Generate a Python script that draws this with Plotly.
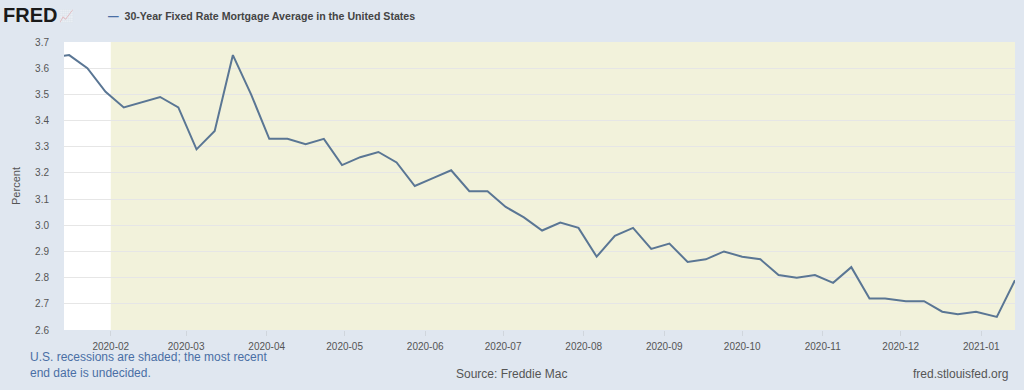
import plotly.graph_objects as go

dates = ["2020-01-09", "2020-01-16", "2020-01-23", "2020-01-30", "2020-02-06", "2020-02-13",
         "2020-02-20", "2020-02-27", "2020-03-05", "2020-03-12", "2020-03-19", "2020-03-26",
         "2020-04-02", "2020-04-09", "2020-04-16", "2020-04-23", "2020-04-30", "2020-05-07",
         "2020-05-14", "2020-05-21", "2020-05-28", "2020-06-04", "2020-06-11", "2020-06-18",
         "2020-06-25", "2020-07-02", "2020-07-09", "2020-07-16", "2020-07-23", "2020-07-30",
         "2020-08-06", "2020-08-13", "2020-08-20", "2020-08-27", "2020-09-03", "2020-09-10",
         "2020-09-17", "2020-09-24", "2020-10-01", "2020-10-08", "2020-10-15", "2020-10-22",
         "2020-10-29", "2020-11-05", "2020-11-12", "2020-11-19", "2020-11-25", "2020-12-03",
         "2020-12-10", "2020-12-17", "2020-12-23", "2020-12-30", "2021-01-07", "2021-01-14"]
rates = [3.64, 3.65, 3.60, 3.51, 3.45, 3.47, 3.49, 3.45, 3.29, 3.36, 3.65, 3.50,
         3.33, 3.33, 3.31, 3.33, 3.23, 3.26, 3.28, 3.24, 3.15, 3.18, 3.21, 3.13,
         3.13, 3.07, 3.03, 2.98, 3.01, 2.99, 2.88, 2.96, 2.99, 2.91, 2.93, 2.86,
         2.87, 2.90, 2.88, 2.87, 2.81, 2.80, 2.81, 2.78, 2.84, 2.72, 2.72, 2.71,
         2.71, 2.67, 2.66, 2.67, 2.65, 2.79]

x_range = ["2020-01-14", "2021-01-14"]
recession_start = "2020-02-01"
recession_end = "2021-01-14"
y_ticks = [2.6, 2.7, 2.8, 2.9, 3.0, 3.1, 3.2, 3.3, 3.4, 3.5, 3.6, 3.7]
x_ticks = ["2020-02-01", "2020-03-01", "2020-04-01", "2020-05-01", "2020-06-01", "2020-07-01",
           "2020-08-01", "2020-09-01", "2020-10-01", "2020-11-01", "2020-12-01", "2021-01-01"]
x_tick_labels = ["2020-02", "2020-03", "2020-04", "2020-05", "2020-06", "2020-07",
                 "2020-08", "2020-09", "2020-10", "2020-11", "2020-12", "2021-01"]

W, H = 1024, 390
ML, MR, MT, MB = 64, 9, 42, 60
PW, PH = W - ML - MR, H - MT - MB


def px(x):
    return (x - ML) / PW


def py(y):
    return (H - MB - y) / PH


fig = go.Figure()
fig.add_trace(go.Scatter(x=dates, y=rates, mode="lines",
                         line=dict(color="#5a7694", width=2), showlegend=False,
                         hoverinfo="x+y"))

fig.add_shape(type="rect", xref="x", yref="paper", x0=recession_start, x1=recession_end,
              y0=0, y1=1, fillcolor="#f2f2db", line_width=0, layer="below")

fig.update_layout(
    width=W, height=H,
    margin=dict(l=ML, r=MR, t=MT, b=MB),
    paper_bgcolor="#e0e7f0",
    plot_bgcolor="#ffffff",
    font=dict(family="Arial, Liberation Sans, sans-serif", color="#555555", size=11),
    xaxis=dict(range=x_range, tickvals=x_ticks, ticktext=x_tick_labels,
               showgrid=False, ticks="outside", ticklen=5, tickcolor="#d0d6dd",
               ticklabelstandoff=2,
               tickfont=dict(size=10, color="#555555"), showline=False, zeroline=False),
    yaxis=dict(range=[2.6, 3.7], tickvals=y_ticks, tickformat=".1f",
               showgrid=True, gridcolor="#e6e6e6", gridwidth=1,
               ticklabelstandoff=14,
               tickfont=dict(size=10, color="#555555"), zeroline=False,
               title=dict(text="Percent", font=dict(size=11, color="#555555"), standoff=12)),
)

fig.add_annotation(xref="paper", yref="paper", x=px(1), y=py(15), xanchor="left", yanchor="middle",
                   text="<b>FRED</b>", showarrow=False,
                   font=dict(family="Liberation Sans, Arial, sans-serif",
                             size=20, color="#1a1a1a"))
fig.add_annotation(xref="paper", yref="paper", x=px(57), y=py(16), xanchor="left", yanchor="middle",
                   text="📈", showarrow=False, opacity=0.3,
                   font=dict(size=12, color="#888888"))
fig.add_annotation(xref="paper", yref="paper", x=px(106), y=py(16), xanchor="left", yanchor="middle",
                   text="<span style='color:#4a6fa5'><b>—</b></span>  <b>30-Year Fixed Rate Mortgage Average in the United States</b>",
                   showarrow=False, font=dict(size=10.6, color="#444444"))
fig.add_annotation(xref="paper", yref="paper", x=px(28), y=py(365), xanchor="left", yanchor="middle",
                   text="U.S. recessions are shaded; the most recent<br>end date is undecided.",
                   showarrow=False, align="left",
                   font=dict(size=12, color="#4a6fa5"))
fig.add_annotation(xref="paper", yref="paper", x=px(511), y=py(374), xanchor="center", yanchor="middle",
                   text="Source: Freddie Mac", showarrow=False,
                   font=dict(size=12, color="#555555"))
fig.add_annotation(xref="paper", yref="paper", x=px(1010), y=py(374), xanchor="right", yanchor="middle",
                   text="fred.stlouisfed.org", showarrow=False,
                   font=dict(size=12, color="#555555"))

fig.write_html("out.html", config={"displayModeBar": False},
               post_script="document.body.style.margin='0';document.body.style.padding='0';"
                           "document.body.style.overflow='hidden';"
                           "document.body.style.background='#e0e7f0';")
